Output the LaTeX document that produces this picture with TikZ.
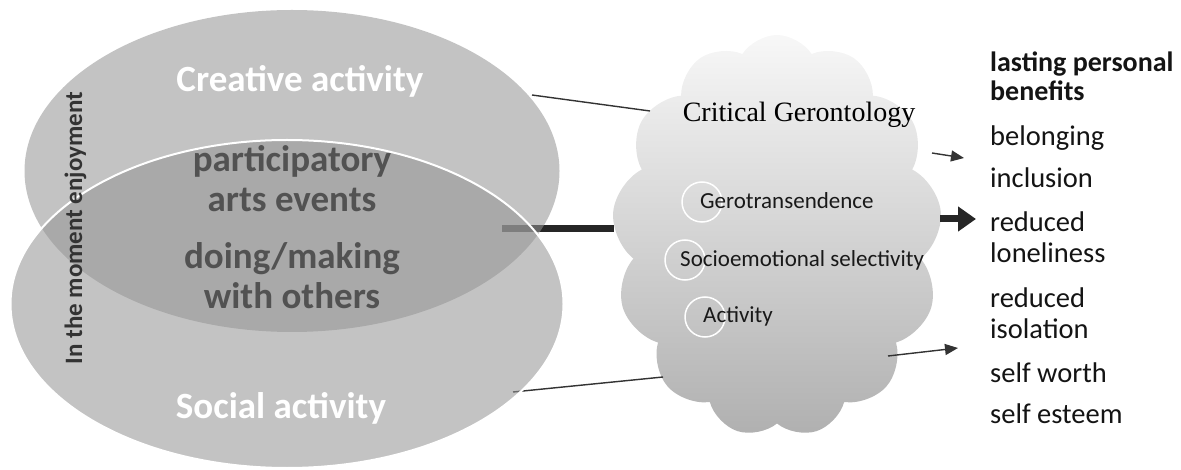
\documentclass[tikz,border=0pt]{standalone}
\usepackage{fontspec}
\setmainfont{Carlito}
\newfontfamily\serifcg{Liberation Serif}
\usetikzlibrary{shapes.geometric,shapes.symbols,arrows.meta}
\definecolor{ellfill}{gray}{0.58}
\definecolor{midtext}{gray}{0.32}
\definecolor{linecol}{gray}{0.2}
\tikzset{
  venn/.style={ellipse, inner sep=0pt, fill=ellfill, fill opacity=0.56},
  whitelabel/.style={text=white, font=\fontsize{37}{40}\selectfont\bfseries, anchor=base, inner sep=0pt},
  midlabel/.style={text=midtext, font=\fontsize{37}{40}\selectfont\bfseries, anchor=base, align=center, inner sep=0pt},
  theory/.style={font=\fontsize{23}{26}\selectfont, anchor=base west, inner sep=0pt, text=black!90},
  ring/.style={circle, draw=white, line width=1.5pt, minimum size=40pt, inner sep=0pt},
  benefit/.style={font=\fontsize{28.5}{31}\selectfont, anchor=base west, inner sep=0pt, align=left, text=black!92},
  thinline/.style={draw=linecol, line width=1.4pt},
  thinarrow/.style={draw=linecol, line width=1.4pt, -{Triangle[length=13pt,width=11pt]}},
  thickarrow/.style={draw=black!85, line width=7pt, -{Triangle[length=18pt,width=24pt]}}
}
\begin{document}
\begin{tikzpicture}[x=1pt,y=-1pt]
\useasboundingbox (0,0) rectangle (1181,470);
% named end points
\coordinate (topstart) at (532,95);
\coordinate (botstart) at (513,392);
\coordinate (midstart) at (502,229);
\coordinate (topcloud) at (650,111);
\coordinate (botcloud) at (663,377);
\coordinate (midcloud) at (614,229);
\coordinate (outtopA) at (932,153);
\coordinate (outtopB) at (964,158);
\coordinate (outmidA) at (940,219);
\coordinate (outmidB) at (976,219);
\coordinate (outbotA) at (888,356);
\coordinate (outbotB) at (958,348);
% cloud
\node[cloud, cloud puffs=13, cloud puff arc=115, aspect=0.82, minimum width=330pt, minimum height=402pt, inner sep=0pt, draw=none, top color=gray!6, bottom color=gray!62] (cloud) at (777,236) {};
% connectors below the ellipses
\draw[thickarrow, -] (midstart) -- (midcloud);
\draw[thinline] (topstart) -- (topcloud);
\draw[thinline] (botstart) -- (botcloud);
% ellipses
\node[venn, minimum width=535pt, minimum height=322pt] (ctop) at (292,171) {};
\node[venn, minimum width=553pt, minimum height=328pt, draw=white, line width=2pt, draw opacity=1] (cbot) at (287,304) {};
% outgoing arrows
\draw[thinarrow] (outtopA) -- (outtopB);
\draw[thickarrow] (outmidA) -- (outmidB);
\draw[thinarrow] (outbotA) -- (outbotB);
% ellipse texts
\node[whitelabel] (creative) at (300,92) {Creative activity};
\node[whitelabel] (social) at (281,418) {Social activity};
\node[midlabel] (partic) at (292,212) {participatory\\arts events};
\node[midlabel] (doing) at (292,309) {doing/making\\with others};
\node[rotate=90, anchor=base, inner sep=0pt, text=black!80, font=\fontsize{25}{28}\selectfont\bfseries] (moment) at (82,228) {In the moment enjoyment};
% cloud texts
\node[anchor=base, inner sep=0pt, font=\serifcg\fontsize{28}{30}\selectfont] (critical) at (799,122) {Critical Gerontology};
\node[ring] (ring1) at (702,202) {};
\node[ring] (ring2) at (685,260) {};
\node[ring] (ring3) at (705,317) {};
\node[theory] (gero) at (700,209) {Gerotransendence};
\node[theory] (socio) at (680,267) {Socioemotional selectivity};
\node[theory] (activ) at (703,323) {Activity};
% benefits
\node[benefit, font=\fontsize{28}{29}\selectfont\bfseries] (lasting) at (990,101) {lasting personal\\benefits};
\node[benefit] (belong) at (990,146) {belonging};
\node[benefit] (incl) at (990,188) {inclusion};
\node[benefit] (lonely) at (990,263) {reduced\\loneliness};
\node[benefit] (isol) at (990,338) {reduced\\isolation};
\node[benefit] (worth) at (990,382) {self worth};
\node[benefit] (esteem) at (990,423) {self esteem};
\end{tikzpicture}
\end{document}
